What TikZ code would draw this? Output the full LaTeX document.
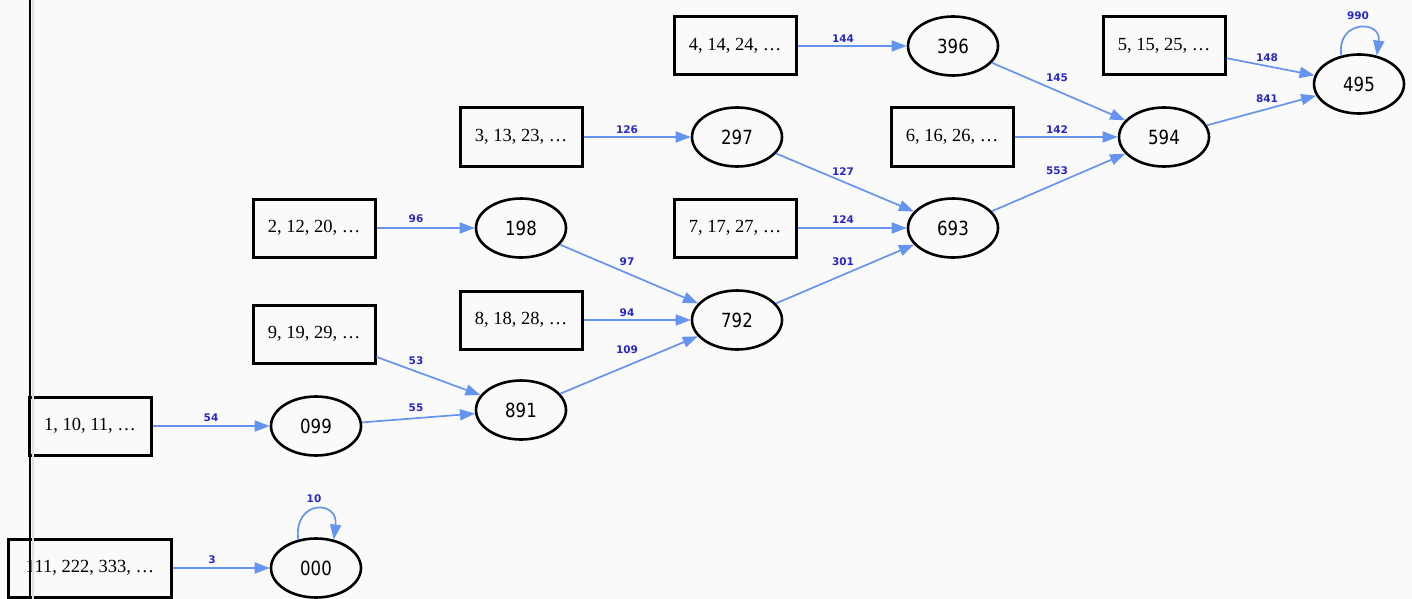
\documentclass[tikz,border=0pt]{standalone}
\usepackage{fontspec}
\setmainfont{Liberation Serif}
\newfontfamily\ellfont[FakeStretch=0.85]{DejaVu Sans}
\newfontfamily\lblfont{DejaVu Sans}
\usetikzlibrary{arrows.meta,shapes.geometric}
\definecolor{edgeblue}{RGB}{100,148,240}
\definecolor{lblblue}{RGB}{40,40,200}
\definecolor{bgcol}{RGB}{250,250,250}
\tikzset{
  box/.style={draw=black, line width=3pt, rectangle, minimum width=122pt, minimum height=58pt, inner sep=0pt, font=\fontsize{18.5}{20}\selectfont},
  ell/.style={draw=black, line width=2.6pt, ellipse, minimum width=90pt, minimum height=59pt, inner sep=0pt, font=\ellfont\fontsize{19.5}{21}\selectfont},
  edge/.style={draw=edgeblue, line width=1.7pt, -{Triangle[length=15pt,width=11pt]}},
  lbl/.style={font=\lblfont\bfseries\fontsize{10.5}{12}\selectfont, text=lblblue, inner sep=0pt},
}
\begin{document}
\begin{tikzpicture}[x=1pt,y=-1pt]
\fill[bgcol] (0,0) rectangle (1412,599);
\useasboundingbox (0,0) rectangle (1412,599);
% boxes
\node[box] (b1) at (90,426) {1, 10, 11, \dots};
\node[box, minimum width=163pt] (b111) at (90,568) {111, 222, 333, \dots};
\node[box] (b9) at (314,334) {9, 19, 29, \dots};
\node[box] (b2) at (314,228) {2, 12, 20, \dots};
\node[box] (b8) at (521,320) {8, 18, 28, \dots};
\node[box] (b3) at (521,137) {3, 13, 23, \dots};
\node[box] (b7) at (735,228) {7, 17, 27, \dots};
\node[box] (b4) at (735,46) {4, 14, 24, \dots};
\node[box] (b6) at (952,137) {6, 16, 26, \dots};
\node[box] (b5) at (1164,46) {5, 15, 25, \dots};
% ellipses
\node[ell] (e000) at (316,568) {000};
\node[ell] (e099) at (316,426) {099};
\node[ell] (e891) at (521,410) {891};
\node[ell] (e198) at (521,228) {198};
\node[ell] (e792) at (737,320) {792};
\node[ell] (e297) at (737,137) {297};
\node[ell] (e693) at (953,228) {693};
\node[ell] (e396) at (953,46) {396};
\node[ell] (e594) at (1164,137) {594};
\node[ell] (e495) at (1359,84) {495};
% edges
\draw[edge] (b1) -- (e099) node[lbl] at (211,418) {54};
\draw[edge] (b111) -- (e000) node[lbl] at (212,560) {3};
\draw[edge] (e000.122) .. controls +(-5,-40) and +(5,-40) .. (e000.58) node[lbl] at (314,499) {10};
\draw[edge] (e099) -- (e891) node[lbl] at (416,408) {55};
\draw[edge] (b9) -- (e891) node[lbl] at (416,361) {53};
\draw[edge] (b2) -- (e198) node[lbl] at (416,219) {96};
\draw[edge] (e891) -- (e792) node[lbl] at (627,350) {109};
\draw[edge] (b8) -- (e792) node[lbl] at (627,313) {94};
\draw[edge] (e198) -- (e792) node[lbl] at (627,262) {97};
\draw[edge] (b3) -- (e297) node[lbl] at (627,130) {126};
\draw[edge] (e792) -- (e693) node[lbl] at (843,262) {301};
\draw[edge] (b7) -- (e693) node[lbl] at (843,220) {124};
\draw[edge] (e297) -- (e693) node[lbl] at (843,172) {127};
\draw[edge] (b4) -- (e396) node[lbl] at (843,39) {144};
\draw[edge] (e693) -- (e594) node[lbl] at (1057,171) {553};
\draw[edge] (b6) -- (e594) node[lbl] at (1057,130) {142};
\draw[edge] (e396) -- (e594) node[lbl] at (1057,78) {145};
\draw[edge] (e594) -- (e495) node[lbl] at (1267,99) {841};
\draw[edge] (b5) -- (e495) node[lbl] at (1267,58) {148};
\draw[edge] (e495.122) .. controls +(-5,-36) and +(5,-36) .. (e495.58) node[lbl] at (1358,16) {990};
% vertical rule
\coordinate (vt) at (30,0);
\coordinate (vb) at (30,599);
\coordinate (gt) at (33,0);
\coordinate (gb) at (33,599);
\draw[black!12, line width=1.5pt] (gt) -- (gb);
\draw[black, line width=1.6pt] (vt) -- (vb);
\end{tikzpicture}
\end{document}
